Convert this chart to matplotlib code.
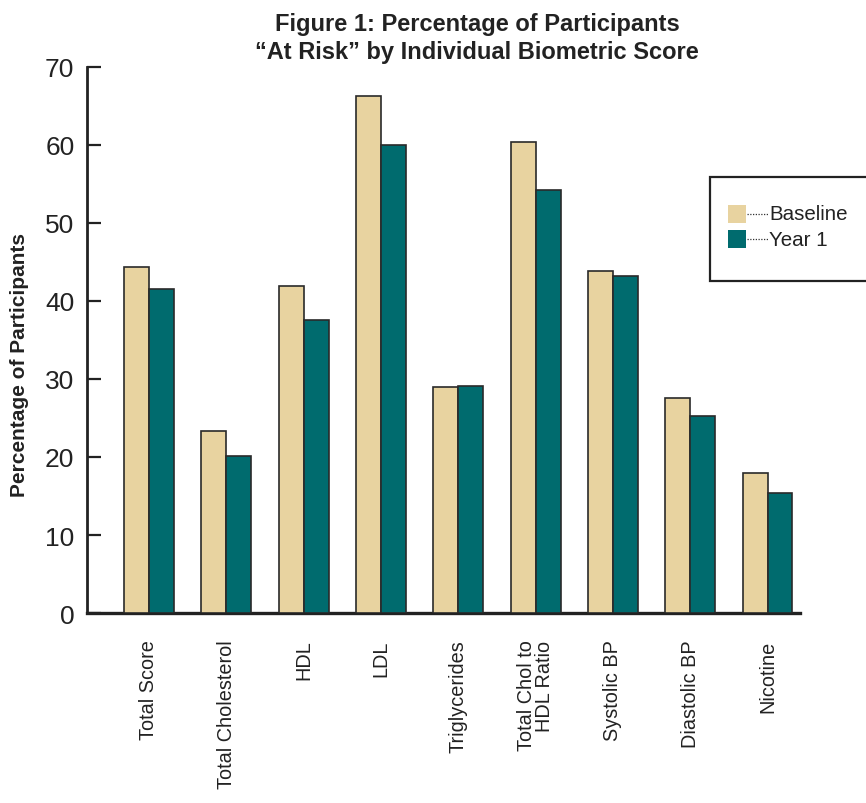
import matplotlib.pyplot as plt
import numpy as np
from matplotlib.patches import Rectangle
from matplotlib.lines import Line2D

plt.rcParams['font.family'] = ['Liberation Sans', 'DejaVu Sans']

categories = ['Total Score', 'Total Cholesterol', 'HDL', 'LDL', 'Triglycerides',
              'Total Chol to\nHDL Ratio', 'Systolic BP', 'Diastolic BP', 'Nicotine']
baseline = [44.4, 23.3, 41.9, 66.3, 29.0, 60.4, 43.8, 27.6, 17.9]
year1 = [41.5, 20.1, 37.6, 60.0, 29.1, 54.2, 43.2, 25.3, 15.4]
yticks = [0, 10, 20, 30, 40, 50, 60, 70]

tan = '#E8D3A0'
teal = '#006B6E'
edge = '#2a2a2a'

fig = plt.figure(figsize=(8.66, 8.04), dpi=100)
ax = fig.add_axes([87 / 866, 1 - 614 / 804, (800 - 87) / 866, (614 - 68) / 804])

x = np.arange(len(categories))
w = 0.323
ax.bar(x - w / 2, baseline, w, color=tan, edgecolor=edge, linewidth=1.2, zorder=3)
ax.bar(x + w / 2, year1, w, color=teal, edgecolor=edge, linewidth=1.2, zorder=3)

ax.set_xlim(-0.8, 8.42)
ax.set_ylim(0, 70)
ax.set_yticks(yticks)
ax.set_xticks(x)
ax.set_xticklabels(categories, rotation=90, va='top', ha='center',
                   multialignment='right', fontsize=14.3, color='#222222',
                   linespacing=0.92)
ax.tick_params(axis='x', length=0, pad=19)
ax.tick_params(axis='y', direction='in', length=10, width=1.6, pad=9,
               labelsize=19, colors='#222222')

for s in ['top', 'right']:
    ax.spines[s].set_visible(False)
ax.spines['left'].set_linewidth(2)
ax.spines['bottom'].set_linewidth(2.4)
ax.spines['left'].set_color('#222222')
ax.spines['bottom'].set_color('#222222')

fig.text(20 / 866, 1 - 365 / 804, 'Percentage of Participants', rotation=90,
         ha='center', va='center', fontsize=15, fontweight='bold', color='#222222')

fig.text(477 / 866, 1 - 24 / 804, 'Figure 1: Percentage of Participants',
         ha='center', va='center', fontsize=17, fontweight='bold', color='#222222')
fig.text(477 / 866, 1 - 53 / 804, '\u201cAt Risk\u201d by Individual Biometric Score',
         ha='center', va='center', fontsize=17, fontweight='bold', color='#222222')

# legend box (runs off the right edge)
def px(xp, yp):
    return xp / 866, 1 - yp / 804

fig.patches.append(Rectangle(px(710, 282), 170 / 866, 104 / 804, transform=fig.transFigure,
                             facecolor='white', edgecolor='#222222', linewidth=1.6))
for name, col, yc in [('Baseline', tan, 215), ('Year 1', teal, 240)]:
    fig.patches.append(Rectangle(px(728, yc + 9), 18 / 866, 18 / 804, transform=fig.transFigure,
                                 facecolor=col, edgecolor='none'))
    x0, y0 = px(747, yc)
    x1, _ = px(768, yc)
    fig.lines.append(Line2D([x0, x1], [y0, y0], transform=fig.transFigure,
                            color='#333333', linewidth=0.9, linestyle=(0, (1, 1.2))))
    fig.text(px(769, yc)[0], y0, name, ha='left', va='center', fontsize=14.8, color='#222222')

fig.savefig('out.png', dpi=100)
